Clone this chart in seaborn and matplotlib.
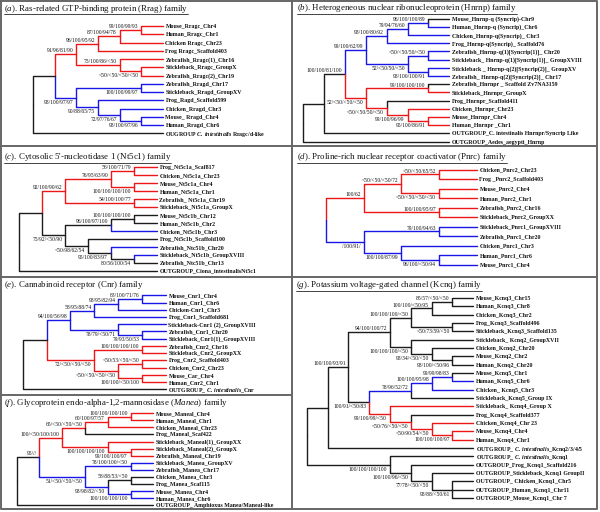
import re
import matplotlib
matplotlib.use("Agg")
import matplotlib.pyplot as plt
from matplotlib.lines import Line2D
import pandas as pd
import seaborn as sns

# Each internal node: (level, support, label side, colour or None=inherit, children)
# Each leaf: "name" or ("name", colour). *text* marks italic words.
R, B, K = "red", "blue", "black"

rrag_tree = (0, None, None, K, [
    (1, None, None, K, [
        (2, "91/96/81/90", "up", R, [
            (3, "96/100/95/92", "up", None, [
                (4, "87/100/94/78", "up", None, [
                    (5, "99/100/99/93", "up", None, ["Mouse_Rragc_Chr4", "Human_Rragc_Chr1"]),
                    "Chicken Rragc_Chr23"]),
                "Frog Rragc_Scaffold403"]),
            (4, "75/100/86/<50", "up", None, [
                "Zebrafish_Rragc(1)_Chr16",
                (5, "<50/<50/<50/<50", "down", None, ["Stickleback_Rragc_GroupX", "Zebrafish_Rragc(2)_Chr19"])])]),
        (2, "98/100/97/97", "down", B, [
            (5, "100/100/99/97", "down", None, ["Zebrafish_Rragd_Chr17", "Stickleback_Rragd_GroupXV"]),
            (3, "90/88/65/75", "down", None, [
                "Frog_Ragd_Scaffold599",
                (4, "72/97/76/67", "down", None, [
                    "Chicken_Rragd_Chr3",
                    (5, "98/100/97/96", "down", None, ["Mouse_ Rragd_Chr4", "Human_Rragd_Chr6"])])])])]),
    "OUGROUP *C. intestinalis* Rragc/d-like"])

hnrnp_tree = (0, None, None, K, [
    (1, None, None, K, [
        (2, "100/100/81/100", "up", K, [
            (3, "99/100/62/99", "up", B, [
                (4, "98/100/80/92", "up", None, [
                    (5, "79/94/76/60", "up", None, [
                        (6, "96/100/100/89", "up", None, [("Mouse_Hnrnp-q (Syncrip)-Chr9", K),
                                                          "Human_Hnrnp-q (Syncrip)_Chr6"]),
                        "Chicken_Hnrnp-q(Syncrip)_ Chr3"]),
                    "Frog_Hnrnp-q(Syncrip)_ Scaffold76"]),
                (5, "52/<50/50/<50", "down", None, [
                    (6, "<50/<50/50/<50", "up", None, ["Zebrafish_Hnrnp-q(1)[Syncrip(1)]_ Chr20",
                                                        "Stickleback_ Hnrnp-q(1)[Syncrip(1)]_ GroupXVIII"]),
                    (6, "98/100/100/91", "down", None, ["Stickleback _ Hnrnp-q(2)[Syncrip(2)]_ GroupXV",
                                                       "Zebrafish_ Hnrnp-q(2)[Syncrip(2)]_ Chr17"])])]),
            (3, "52/<50/<50/<50", "down", R, [
                (6, "99/100/100/100", "up", None, [("Zebrafish_Hnrnpr _ Scaffold Zv7NA3159", K),
                                                   "Stickleback_Hnrnpr_GroupX"]),
                (4, "<50/<50/50/<50", "down", None, [
                    ("Frog_Hnrnpr_Scaffold411", K),
                    (5, "99/100/96/99", "down", None, [
                        "Chicken_Hnrnpr_Chr23",
                        (6, "95/100/86/91", "down", None, ["Mouse_Hnrnpr_Chr4", "Human_Hnrnpr _Chr1"])])])])]),
        "OUTGROUP_C. intestinalis Hnrnpr/Syncrip Like"]),
    "OUTGROUP_Aedes_aegypti_Hnrnp"])

nt5c1_tree = (0, None, None, K, [
    (1, None, None, K, [
        (2, "92/100/90/62", "up", R, [
            (4, "76/95/63/90", "up", None, [
                (5, "56/100/71/79", "up", None, ["Frog_Nt5c1a_Scaf817", "Chicken_Nt5c1a_Chr23"]),
                (5, "100/100/100/100", "down", None, ["Mouse_Nt5c1a_Chr4", "Human_Nt5c1a_Chr1"])]),
            (5, "54/100/100/77", "up", None, ["Zebrafish_ Nt5c1a_Chr19", "Stickleback_Nt5c1a_GroupX"])]),
        (2, "75/92/<50/90", "down", K, [
            (4, "96/100/97/100", "up", None, [
                (5, "100/100/100/100", "up", None, ["Mouse_Nt5c1b_Chr12", "Human_Nt5c1b_Chr2"]),
                ("Chicken_Nt5c1b_Chr3", B)]),
            (3, "<50/98/62/54", "down", None, [
                "Frog_Nt5c1b_Scaffold100",
                (4, "95/100/83/97", "down", None, [
                    ("Zebrafish_Ntc51b_Chr20", B),
                    (5, "80/56/100/54", "down", None, [("Stickleback_Nt5c1b_GroupXVIII", B),
                                                      "Zebrafish_Ntc51b_Chr13"])])])])]),
    "OUTGROUP_Ciona_intestinalisNt5c1"])

pnrc_tree = (0, None, None, K, [
    (1, "100/62", "up", R, [
        (2, "<50/<50/<50/72", "up", None, [
            (3, "<50/<50/65/52", "up", None, ["Chicken_Pnrc2_Chr23", "Frog _Pnrc2_Scaffold403"]),
            (3, "<50/<50/<50/<50", "down", None, ["Mouse_Pnrc2_Chr4", "Human_Pnrc2_Chr1"])]),
        (3, "100/100/95/97", "up", None, ["Zebrafish_Pnrc2_Chr16", "Stickleback_Pnrc2_GroupXX"])]),
    (1, "/100/91/", "down", B, [
        (3, "79/100/94/63", "up", None, ["Stickleback_Pnrc1_GroupXVIII", "Zebrafish_Pnrc1_Chr20"]),
        (2, "100/100/87/99", "down", None, [
            "Chicken_Pnrc1_Chr3",
            (3, "96/100/<50/94", "down", None, ["Human_Pnrc1_Chr6", "Mouse_Pnrc1_Chr4"])])])])

cnr_tree = (0, None, None, K, [
    (1, None, None, K, [
        (2, "94/100/56/98", "up", B, [
            (3, "58/95/88/74", "up", None, [
                (4, "98/95/82/94", "up", None, [
                    (5, "83/100/71/76", "up", None, ["Mouse_Cnr1_Chr4", "Human_Cnr1_Chr6"]),
                    "Chicken-Cnr1_Chr3"]),
                "Frog_Cnr1_Scaffold681"]),
            (4, "78/79/<50/71", "down", None, [
                "Stickleback-Cnr1 (2)_GroupXVIII",
                (5, "79/93/50/53", "down", None, ["Zebrafish_Cnr1_Chr20", "Stickleback_Cnr1(1)_GroupXVIII"])])]),
        (3, "72/<50/<50/<50", "down", R, [
            (5, "100/100/100/100", "up", None, ["Zebrafish_Cnr2_Chr16", "Stickleback_Cnr2_GroupXX"]),
            (4, "<50/<50/<50/<50", "down", None, [
                (5, "<50/53/<50/<50", "up", None, ["Frog_Cnr2_Scaffold403", "Chicken_Cnr2_Chr23"]),
                (5, "100/100/<50/100", "down", None, ["Mouse_Car_Chr4", "Human_Cnr2_Chr1"])])])]),
    "OUTGROUP_ *C. intestinalis*_Cnr"])

manea_tree = (0, None, None, K, [
    (1, "95///", "up", K, [
        (2, "100/<50/100/100", "up", R, [
            (3, "65/<50/<50/<50", "up", None, [
                (4, "60/100/97/57", "up", None, [
                    (5, "100/100/100/100", "up", None, ["Mouse_Maneal_Chr4", "Human_Maneal_Chr1"]),
                    "Chicken_Maneal_Chr23"]),
                ("Frog_Maneal_Scaf422", K)]),
            (4, "100/100/100/100", "down", None, [
                "Stickleback_Maneal(1)_GroupXX",
                (5, "99/100/100/97", "down", None, ["Stickleback_Maneal(2)_GroupX", "Zebrafish_Maneal_Chr19"])])]),
        (3, "51/<50/<50/<50", "down", B, [
            (5, "78/100/100/<50", "up", None, ["Stickleback_Manea_GroupXV", "Zebrafish_Manea_Chr17"]),
            (4, "98/98/82/<50", "down", None, [
                (5, "58/88/53/<50", "up", K, ["Chicken_Manea_Chr3", "Frog_Manea_Scaf115"]),
                (5, "100/100/100/100", "down", None, ["Mouse_Manea_Chr4", "Human_Manea_Chr6"])])])]),
    "OUTGROUP_ Amphioxus Manea/Maneal-like"])

kcnq_tree = (0, None, None, K, [
    (1, None, None, K, [
        (2, "100/100/93/91", "up", K, [
            (4, "94/100/100/72", "up", None, [
                (5, "100/100/100/<50", "up", None, [
                    (6, "100/100/<50/95", "up", None, [
                        (7, "85/57/<50/<50", "up", None, ["Mouse_Kcnq3_Chr15", "Human_Kcnq3_Chr8"]),
                        "Chicken_Kcnq3_Chr2"]),
                    (7, "<50/73/59/<50", "down", None, ["Frog_Kcnq3_Scaffold496", "Stickleback_Kcnq3_Scaffold135"])]),
                (5, "100/100/100/<50", "down", None, [
                    "Stickleback_ Kcnq2_GroupXVII",
                    (6, "98/34/<50/<50", "down", None, [
                        "Chicken_Kcnq2_Chr20",
                        (7, "98/100/<50/96", "down", None, ["Mouse_Kcnq2_Chr2", "Human_Kcnq2_Chr20"])])])]),
            (3, "100/91/<50/83", "down", None, [
                (5, "78/96/52/72", "up", B, [
                    (6, "100/100/95/98", "up", None, [
                        (7, "99/99/98/83", "up", None, [("Mouse_Kcnq5_Chr1", K), "Human_Kcnq5_Chr6"]),
                        "Chicken_ Kcnq5_Chr3"]),
                    ("Stickleback_Kcnq5_Group IX", K)]),
                (4, "99/100/99/<50", "down", R, [
                    "Stickleback_ Kcnq4_Group X",
                    (5, "<50/76/<50/<50", "down", None, [
                        ("Frog_Kcnq4_Scaffold377", K),
                        (6, "<50/90/54/<50", "down", None, [
                            "Chicken_Kcnq4_Chr 23",
                            (7, "100/100/100/97", "down", None, ["Mouse_Kcnq4_Chr4", "Human_Kcnq4_Chr1"])])])])])]),
        "OUTGROUP_ *C. intestinalis*_Kcnq2/3/4/5"]),
    (4, "100/100/100/100", "down", K, [
        "OUTGROUP_ *C. intestinalis*_Kcnq1",
        (5, "100/100/96/<50", "down", None, [
            "OUTGROUP_Frog_Kcnq1_Scaffold216",
            (6, "77/78/<50/<50", "down", None, [
                "OUTGROUP_Stickleback_Kcnq1 GroupII",
                (7, "98/88/<50/61", "down", None, ["OUTGROUP_ Chicken_Kcnq1_Chr5",
                                                  "OUTGROUP_Human_Kcnq1_Chr11",
                                                  "OUTGROUP_Mouse_Kcnq1_Chr 7"])])])])])

titles = {
    "a": "Ras-related GTP-binding protein (Rrag) family",
    "b": "Heterogeneous nuclear ribonucleoprotein (Hnrnp) family",
    "c": "Cytosolic 5'-nucleotidase 1 (Nt5c1) family",
    "d": "Proline-rich nuclear receptor coactivator (Pnrc) family",
    "e": "Cannabinoid receptor (Cnr) family",
    "f": "Glycoprotein endo-alpha-1,2-mannosidase (*Manea*) family",
    "g": "Potassium voltage-gated channel (Kcnq) family",
}

# ---- layout (pixels of the 600x512 canvas) ----
W, H = 600, 512
# tree, box (x0, x1, y_top, y_bottom), root px, tip px, first leaf px, leaf spacing, title x, title y, underline
panels = {
    "a": (rrag_tree, (0, 292, 0, 146), 33.3, 162.7, 26.0, 8.25, 3.5, 6.7, True),
    "b": (hnrnp_tree, (292, 597, 0, 146), 303.3, 449.3, 18.7, 8.2, 297, 6.3, True),
    "c": (nt5c1_tree, (0, 292, 146, 277), 19.3, 156.7, 167.3, 7.95, 3.5, 155.3, True),
    "d": (pnrc_tree, (292, 597, 146, 277), 326.0, 476.7, 169.7, 9.5, 297, 155.3, True),
    "e": (cnr_tree, (0, 292, 277, 395), 22.7, 165.7, 295.3, 7.23, 3.5, 282.8, False),
    "f": (manea_tree, (0, 292, 395, 509), 16.7, 153.3, 413.3, 7.05, 3.5, 400.7, False),
    "g": (kcnq_tree, (292, 597, 277, 509), 306.7, 473.3, 298.0, 8.33, 296, 283.3, True),
}

PALETTE = {R: "#ee1717", B: "#1717e8", K: "#1c1c1c"}

sns.set_theme(style="white")
plt.rcParams["font.family"] = ["Liberation Serif", "DejaVu Serif"]
plt.rcParams["mathtext.fontset"] = "custom"
plt.rcParams["mathtext.rm"] = "Liberation Serif"
plt.rcParams["mathtext.it"] = "Liberation Serif:italic"
if "mathtext.bfit" in plt.rcParams:
    plt.rcParams["mathtext.bfit"] = "Liberation Serif:italic:bold"
    BOLD_IT = r"\mathbfit"
else:
    BOLD_IT = r"\mathit"


def italics(text, macro):
    return re.sub(r"\*(.+?)\*", lambda m: "$%s{%s}$" % (macro, m.group(1).replace(" ", r"\ ")), text)


def is_leaf(node):
    return isinstance(node, str) or len(node) == 2


def max_level(node):
    return -1 if is_leaf(node) else max([node[0]] + [max_level(k) for k in node[4]])


def walk(node, tip, counter, colour, segs, leaves, supports):
    if is_leaf(node):
        name, c = (node, None) if isinstance(node, str) else node
        y = counter[0]
        counter[0] += 1
        leaves.append((name, tip, y))
        return tip, y, c or colour
    level, support, side, c, kids = node
    c = c or colour
    pts = [walk(k, tip, counter, c, segs, leaves, supports) for k in kids]
    y = (pts[0][1] + pts[-1][1]) / 2
    for kx, ky, kc in pts:
        segs.append(([level, level, kx], [y, ky, ky], kc))
    if support:
        supports.append((support, level, y, side))
    return level, y, c


fig = plt.figure(figsize=(W / 100, H / 100), dpi=100)
fig.patch.set_facecolor("white")

underlined = []
for key, (tree, box, root_px, tip_px, leaf0, dy, tx, ty, uline) in panels.items():
    x0, x1, yt, yb = box
    tip = max_level(tree) + 1
    segs, leaves, supports = [], [], []
    walk(tree, tip, [0], K, segs, leaves, supports)
    step = (tip_px - root_px) / tip

    ax = fig.add_axes([x0 / W, 1 - yb / H, (x1 - x0) / W, (yb - yt) / H])
    rows = []
    for i, (xs, ys, c) in enumerate(segs):
        for j in range(3):
            rows.append({"seg": i, "x": xs[j], "y": ys[j], "colour": c})
    df = pd.DataFrame(rows)
    sns.lineplot(data=df, x="x", y="y", hue="colour", units="seg", estimator=None,
                 sort=False, palette=PALETTE, legend=False, linewidth=1.0, ax=ax)
    ax.set_xlim((x0 - root_px) / step, (x1 - root_px) / step)
    ax.set_ylim((yb - leaf0) / dy, (yt - leaf0) / dy)
    ax.axis("off")

    for name, lx, ly in leaves:
        ax.annotate(italics(name, BOLD_IT), (lx, ly), xytext=(2.0, 0), textcoords="offset points",
                    ha="left", va="center_baseline", fontsize=4.2, fontweight="bold",
                    color="#111111", annotation_clip=False)
    for text, sx, sy, side in supports:
        off = 2.8 if side == "up" else -2.9
        ax.annotate(text, (sx, sy), xytext=(-2.0, off), textcoords="offset points",
                    ha="right", va="center_baseline", fontsize=4.0, color="#111111",
                    annotation_clip=False)

    t = fig.text(tx / W, 1 - ty / H, "($\\mathit{%s}$). " % key + italics(titles[key], r"\mathit"),
                 ha="left", va="center_baseline", fontsize=6.4, color="#111111")
    if uline:
        underlined.append(t)


def fig_line(xs, ys, lw=1.4, color="#666666"):
    fig.add_artist(Line2D([x / W for x in xs], [1 - y / H for y in ys],
                          transform=fig.transFigure, lw=lw, color=color))


# panel frame and dividers
fig_line([0.5, 597, 597, 0.5, 0.5], [0.5, 0.5, 509, 509, 0.5])
fig_line([292, 292], [0.5, 509])
fig_line([0.5, 597], [146, 146])
fig_line([0.5, 597], [277, 277])
fig_line([0.5, 292], [395, 395])

fig.canvas.draw()
renderer = fig.canvas.get_renderer()
for t in underlined:
    bb = t.get_window_extent(renderer)
    yline = bb.y0 + 0.4
    fig.add_artist(Line2D([bb.x0 / W, bb.x1 / W], [yline / H, yline / H],
                          transform=fig.transFigure, lw=0.55, color="#111111"))

fig.savefig("out.png", dpi=100, facecolor="white")
